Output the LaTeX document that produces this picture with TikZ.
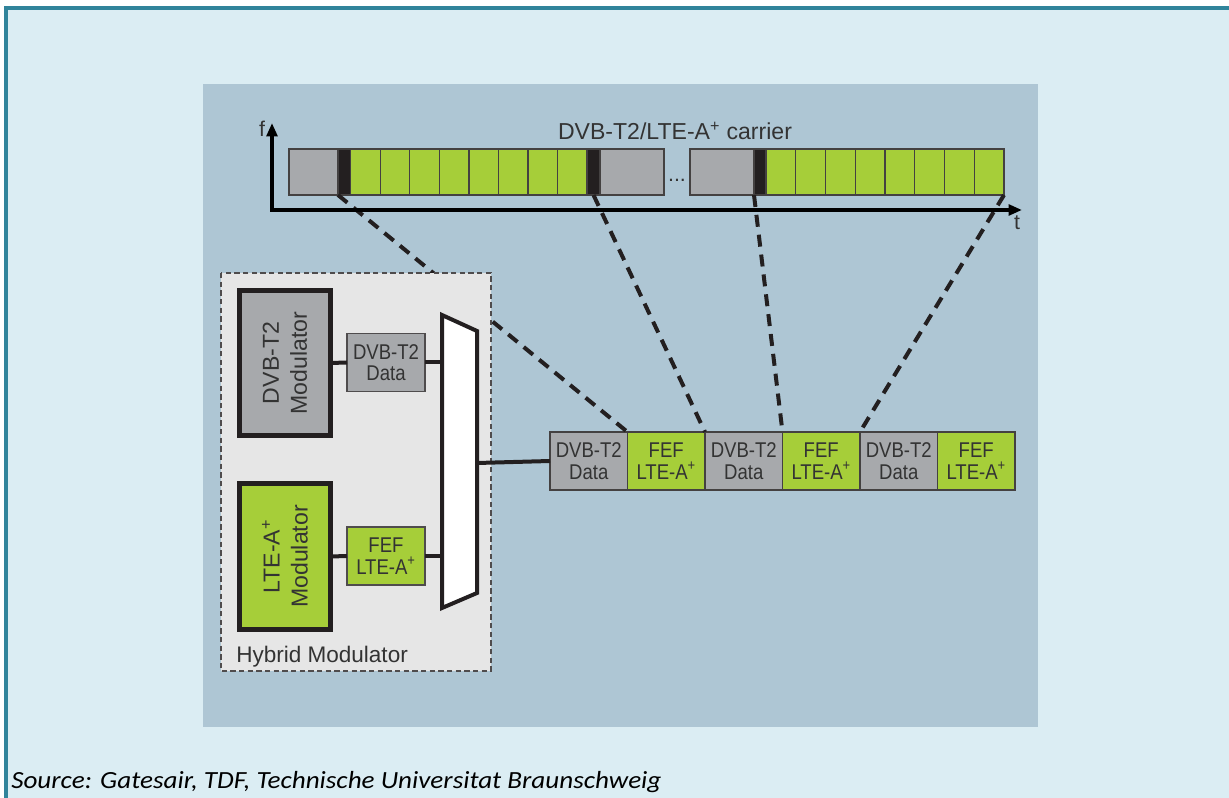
\documentclass[tikz,border=0pt]{standalone}
\usepackage{fontspec}
\setmainfont{Liberation Sans}
\newfontfamily\narrowfont[FakeStretch=0.87]{Liberation Sans}
\newfontfamily\srcfont[FakeStretch=1.1]{Carlito}
\usetikzlibrary{arrows.meta}

\definecolor{pagebg}{HTML}{DBEDF3}
\definecolor{frameline}{HTML}{31849B}
\definecolor{panelbg}{HTML}{AEC6D4}
\definecolor{hybridbg}{HTML}{E6E6E6}
\definecolor{grayc}{HTML}{A7A9AC}
\definecolor{limec}{HTML}{A6CE39}
\definecolor{darkc}{HTML}{231F20}
\definecolor{textc}{HTML}{333333}

\tikzset{
  cc/.style={draw=darkc!85, line width=0.9pt, inner sep=0pt, outer sep=0pt,
             minimum height=46*0.75pt, anchor=north west},
  fc/.style={draw=darkc!85, line width=0.9pt, inner sep=0pt, outer sep=0pt,
             minimum width=77.5*0.75pt, minimum height=58*0.75pt, anchor=north west,
             align=center, text=textc, font=\narrowfont\fontsize{16pt}{16pt}\selectfont},
  modbox/.style={draw=darkc, line width=3.75pt, inner sep=0pt, outer sep=0pt,
             minimum width=145*0.75pt, minimum height=91*0.75pt, rotate=90,
             align=center, text=textc, font=\fontsize{17.3pt}{21pt}\selectfont},
  databox/.style={draw=darkc!80, line width=0.9pt, inner sep=0pt, outer sep=0pt,
             minimum width=78*0.75pt, minimum height=58*0.75pt,
             align=center, text=textc, font=\narrowfont\fontsize{16pt}{16pt}\selectfont},
  wire/.style={draw=darkc, line width=3pt},
  axisline/.style={draw=black, line width=3pt, miter limit=10},
  slotlink/.style={draw=darkc, line width=3pt, dash pattern=on 9pt off 6pt},
  lbl/.style={text=textc, inner sep=0pt, font=\fontsize{16pt}{18pt}\selectfont},
}

\begin{document}
\begin{tikzpicture}[x=0.75pt,y=-0.75pt]
\useasboundingbox (0,0) rectangle (1229,798);

% page background with its teal edges
\fill[white] (0,0) rectangle (1229,798);
\fill[pagebg] (4,6) rectangle (1229,798);
\fill[frameline] (4,6) rectangle (1229,10);
\fill[frameline] (4,6) rectangle (7.5,798);

% figure panel
\fill[panelbg] (203,84) rectangle (1038,727);

% carrier: frames along time
\node[lbl, font=\fontsize{17.3pt}{19pt}\selectfont] (title) at (675,131) {DVB-T2/LTE-A\textsuperscript{+} carrier};

\node[cc, fill=grayc, minimum width=49*0.75pt] (ga) at (289,149) {};
\node[cc, fill=darkc, minimum width=12.7*0.75pt] (ba) at (338,149) {};
\foreach \i in {0,...,7}
  \node[cc, fill=limec, minimum width=29.55*0.75pt] (la\i) at ({350.7+29.55*\i},149) {};
\node[cc, fill=darkc, minimum width=13*0.75pt] (bb) at (587,149) {};
\node[cc, fill=grayc, minimum width=64*0.75pt] (gb) at (600,149) {};
\node[text=textc, inner sep=0pt, font=\fontsize{16pt}{16pt}\selectfont] (dots) at (677,180) {...};
\node[cc, fill=grayc, minimum width=64*0.75pt] (gc) at (690,149) {};
\node[cc, fill=darkc, minimum width=12*0.75pt] (bc) at (754,149) {};
\foreach \i in {0,...,7}
  \node[cc, fill=limec, minimum width=29.75*0.75pt] (lb\i) at ({766+29.75*\i},149) {};

% frame sequence leaving the hybrid modulator
\node[fc, fill=grayc] (fr1) at (550,432) {DVB-T2\\Data};
\node[fc, fill=limec] (fr2) at (627.5,432) {FEF\\LTE-A\textsuperscript{+}};
\node[fc, fill=grayc] (fr3) at (705,432) {DVB-T2\\Data};
\node[fc, fill=limec] (fr4) at (782.5,432) {FEF\\LTE-A\textsuperscript{+}};
\node[fc, fill=grayc] (fr5) at (860,432) {DVB-T2\\Data};
\node[fc, fill=limec] (fr6) at (937.5,432) {FEF\\LTE-A\textsuperscript{+}};

% links between carrier slots and frames
\draw[slotlink] (ba.south west) -- (fr1.north east);
\draw[slotlink] (bb.south) -- (fr2.north east);
\draw[slotlink] (bc.south west) -- (fr3.north east);
\draw[slotlink] (lb7.south east) -- (fr4.north east);

% time / frequency axes
\coordinate (origin) at (272,210);
\coordinate (fend) at (272,123);
\coordinate (tend) at (1022,210);
\draw[axisline, {Triangle[length=10pt,width=8pt]}-{Triangle[length=10pt,width=8pt]}]
  (fend) -- (origin) -- (tend);
\node[lbl, anchor=base] (flbl) at (262,137) {f};
\node[lbl, anchor=base] (tlbl) at (1017,230) {t};

% hybrid modulator
\draw[fill=hybridbg, draw=darkc!80, line width=0.8pt, dash pattern=on 4pt off 2.5pt]
  (221,273) rectangle (491,671);
\node[lbl, anchor=west, font=\fontsize{16.9pt}{18pt}\selectfont] (hyb) at (236,657) {Hybrid Modulator};

\node[modbox, fill=grayc] (dvbmod) at (285,363) {DVB-T2\\Modulator};
\node[modbox, fill=limec] (ltemod) at (285,556.5) {LTE-A\textsuperscript{+}\\Modulator};

\node[databox, fill=grayc] (dvbdata) at (386,362.5) {DVB-T2\\Data};
\node[databox, fill=limec] (ltedata) at (386,556) {FEF\\LTE-A\textsuperscript{+}};

% multiplexer
\coordinate (mtl) at (442,315);
\coordinate (mtr) at (477,331);
\coordinate (mbr) at (477,593);
\coordinate (mbl) at (442,608);
\coordinate (mout) at (477,463);
\draw[fill=white, draw=darkc, line width=3pt, line join=miter] (mtl) -- (mtr) -- (mbr) -- (mbl) -- cycle;

\draw[wire] (dvbmod.south) -- (dvbdata.west);
\draw[wire] (ltemod.south) -- (ltedata.west);
\draw[wire] (dvbdata.east) -- (dvbdata.east -| mtl);
\draw[wire] (ltedata.east) -- (ltedata.east -| mtl);
\draw[wire] (mout) -- (fr1.west);

% source line
\node[anchor=base west, inner sep=0pt, text=black, font=\srcfont\itshape\fontsize{18.5pt}{20pt}\selectfont]
  (src) at (11,788) {Source: Gatesair, TDF, Technische Universitat Braunschweig};
\end{tikzpicture}
\end{document}
